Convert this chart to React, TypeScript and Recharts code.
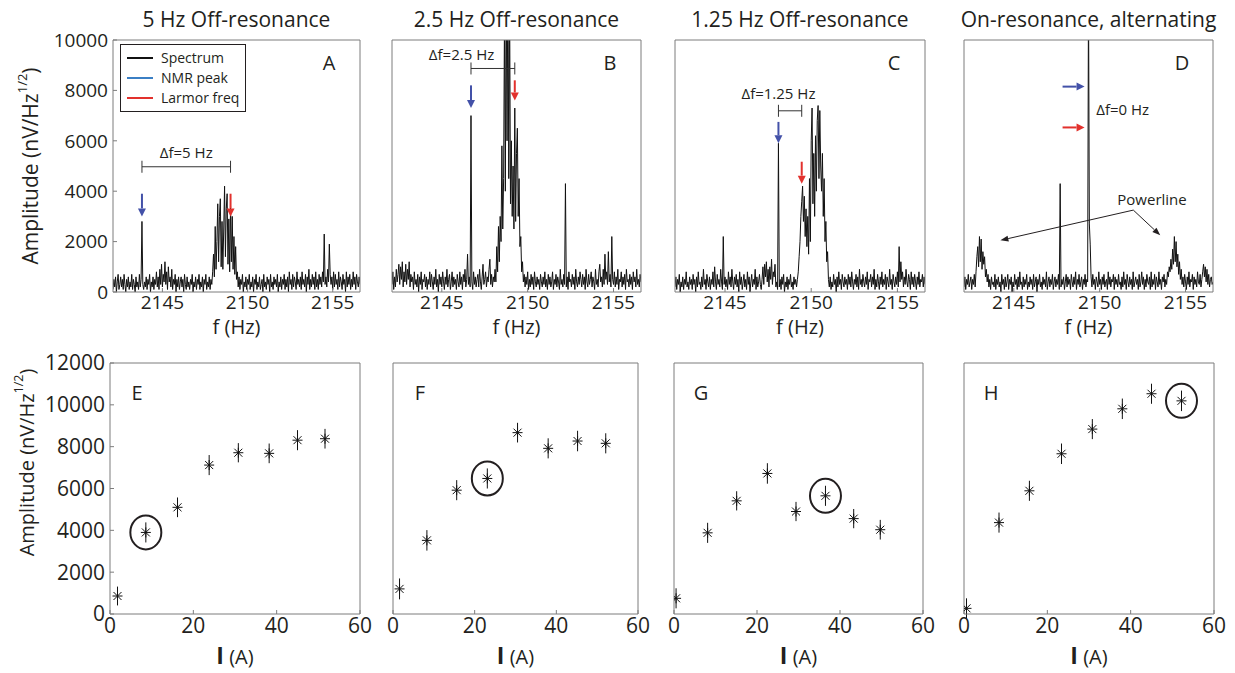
import React from 'react';
import {
  ErrorBar,
  Legend,
  Line,
  LineChart,
  ReferenceDot,
  ReferenceLine,
  Scatter,
  ScatterChart,
  XAxis,
  YAxis,
} from 'recharts';

const FONT = '"Open Sans", "Noto Sans", sans-serif';
const INK = '#231f20';
const FRAME = '#7d7d7d';
const TONES: Record<string, string> = { nmr: '#4351a8', larmor: '#e2312d', ink: '#231f20' };
const LEGEND_BLUE = '#3b7fc4';

// spectrum sampling grid
const F_START = 2142.1;
const F_STEP = 0.05;
const F_DOMAIN = [2142.1, 2156.6];
const F_TICKS = [2145, 2150, 2155];
const AMP_TICKS = [0, 2000, 4000, 6000, 8000, 10000];
const AMP_UNIT = 100; // spectra below are typed in units of 100 nV/Hz^1/2, one value per 0.05 Hz

// A: 5 Hz off-resonance
const SPEC_A = [
  1, 5, 2, 6, 0, 4, 7, 1, 3, 6, 2, 5, 1, 7, 3, 0, 5, 2, 6, 1,
  4, 2, 7, 1, 5, 3, 0, 6, 2, 4, 1, 7, 2, 5, 28, 3, 1, 4, 2, 6,
  1, 5, 3, 7, 0, 4, 2, 6, 1, 5, 3, 8, 2, 6, 1, 9, 3, 11, 2, 7,
  4, 12, 3, 8, 1, 10, 4, 6, 2, 9, 1, 5, 3, 7, 0, 5, 2, 6, 1, 4,
  6, 2, 5, 0, 7, 3, 1, 6, 2, 4, 1, 5, 3, 7, 0, 4, 2, 6, 1, 5,
  3, 7, 1, 4, 2, 6, 0, 5, 3, 7, 1, 4, 2, 6, 1, 5, 3, 8, 15, 6,
  26, 9, 20, 35, 12, 30, 37, 10, 28, 9, 25, 42, 14, 33, 39, 11, 29, 8, 34, 12,
  30, 9, 22, 7, 18, 5, 8, 2, 6, 1, 5, 3, 7, 0, 4, 2, 6, 1, 5, 3,
  7, 1, 4, 2, 6, 0, 5, 3, 7, 1, 4, 2, 6, 1, 3, 5, 0, 7, 2, 4,
  1, 6, 3, 5, 0, 7, 2, 4, 1, 6, 3, 5, 2, 7, 0, 4, 2, 6, 1, 5,
  3, 7, 1, 5, 2, 6, 0, 8, 3, 5, 1, 7, 2, 6, 4, 1, 8, 3, 5, 2,
  6, 1, 8, 3, 5, 2, 7, 0, 6, 3, 9, 1, 5, 2, 7, 3, 6, 1, 8, 2,
  5, 1, 7, 3, 6, 2, 8, 4, 23, 3, 6, 2, 9, 4, 19, 7, 3, 6, 1, 8,
  2, 7, 3, 5, 1, 8, 2, 6, 4, 1, 7, 3, 5, 0, 8, 2, 6, 3, 7, 1,
  5, 2, 8, 3, 6, 1, 7, 4, 2, 6, 3,
];

// B: 2.5 Hz off-resonance
const SPEC_B = [
  3, 8, 1, 6, 2, 9, 4, 7, 11, 3, 10, 5, 12, 2, 8, 4, 11, 3, 9, 5,
  12, 2, 7, 4, 6, 1, 8, 3, 5, 2, 7, 0, 6, 3, 8, 1, 5, 4, 7, 2,
  6, 1, 5, 3, 8, 2, 7, 4, 1, 6, 3, 9, 2, 5, 0, 7, 3, 6, 2, 8,
  4, 1, 6, 3, 9, 2, 5, 7, 1, 4, 8, 2, 6, 3, 5, 1, 7, 4, 2, 8,
  3, 6, 1, 7, 4, 9, 2, 5, 15, 3, 6, 2, 70, 4, 1, 8, 3, 6, 2, 5,
  7, 2, 9, 4, 1, 6, 11, 3, 5, 8, 2, 6, 4, 9, 13, 3, 7, 2, 6, 4,
  9, 4, 18, 8, 26, 12, 30, 20, 58, 25, 45, 110, 40, 125, 60, 130, 45, 115, 35, 60,
  30, 50, 25, 73, 28, 55, 65, 30, 45, 18, 22, 8, 12, 4, 7, 2, 6, 3, 8, 1,
  5, 2, 7, 3, 6, 1, 8, 4, 2, 6, 3, 5, 1, 7, 4, 2, 6, 3, 8, 2,
  5, 1, 7, 3, 6, 2, 4, 8, 1, 5, 3, 7, 2, 6, 4, 1, 9, 3, 5, 2,
  7, 3, 43, 2, 6, 1, 8, 4, 5, 2, 7, 3, 6, 1, 9, 4, 2, 6, 3, 8,
  5, 2, 7, 3, 6, 1, 9, 4, 2, 7, 3, 5, 8, 2, 6, 4, 1, 9, 3, 5,
  2, 8, 11, 4, 6, 2, 9, 3, 15, 5, 8, 3, 16, 4, 7, 2, 22, 5, 3, 8,
  2, 6, 3, 9, 1, 5, 4, 8, 2, 6, 3, 7, 1, 9, 4, 5, 2, 7, 3, 6,
  1, 8, 4, 6, 2, 9, 3, 5, 2, 7, 4,
];

// C: 1.25 Hz off-resonance
const SPEC_C = [
  2, 6, 1, 5, 3, 7, 0, 4, 2, 6, 1, 5, 3, 8, 2, 4, 1, 6, 3, 5,
  1, 7, 3, 5, 0, 6, 2, 8, 3, 4, 1, 6, 2, 9, 3, 5, 1, 7, 4, 2,
  6, 1, 5, 3, 8, 2, 10, 4, 1, 7, 3, 5, 2, 9, 4, 1, 22, 3, 6, 2,
  5, 1, 8, 3, 6, 2, 9, 4, 1, 6, 3, 7, 2, 5, 0, 8, 3, 6, 1, 4,
  7, 2, 5, 1, 8, 3, 6, 0, 4, 7, 2, 5, 3, 9, 1, 6, 2, 4, 7, 3,
  1, 5, 10, 3, 11, 6, 12, 4, 9, 2, 10, 5, 13, 3, 8, 6, 11, 2, 4, 1,
  59, 2, 5, 1, 6, 3, 7, 0, 4, 2, 6, 1, 5, 3, 7, 2, 4, 1, 6, 3,
  5, 2, 5, 8, 14, 20, 30, 36, 42, 28, 38, 22, 33, 18, 30, 15, 45, 20, 60, 73,
  35, 55, 30, 62, 40, 68, 74, 45, 72, 50, 40, 55, 30, 45, 20, 28, 12, 16, 5, 2,
  6, 1, 4, 2, 7, 3, 5, 0, 6, 2, 8, 3, 5, 1, 7, 4, 2, 6, 3, 5,
  1, 7, 3, 6, 2, 8, 4, 1, 5, 3, 7, 2, 6, 1, 9, 3, 5, 2, 7, 4,
  2, 6, 3, 8, 1, 5, 4, 7, 2, 6, 3, 9, 1, 5, 2, 7, 4, 1, 6, 3,
  8, 2, 5, 3, 7, 1, 6, 4, 2, 9, 3, 5, 1, 7, 4, 2, 6, 3, 8, 2,
  18, 4, 12, 5, 8, 2, 6, 3, 9, 4, 2, 7, 5, 1, 8, 3, 6, 2, 7, 4,
  1, 6, 3, 8, 2, 5, 4, 7, 2, 6, 3,
];

// D: on-resonance, alternating
const SPEC_D = [
  2, 6, 1, 5, 3, 7, 2, 4, 6, 1, 5, 3, 7, 2, 8, 14, 18, 10, 22, 12,
  21, 9, 16, 11, 14, 6, 9, 4, 7, 2, 5, 1, 6, 3, 4, 2, 7, 1, 5, 3,
  6, 2, 4, 0, 7, 3, 5, 1, 6, 2, 4, 7, 1, 5, 3, 6, 0, 4, 2, 7,
  3, 5, 1, 6, 2, 8, 3, 4, 1, 6, 2, 5, 3, 7, 1, 4, 2, 6, 3, 5,
  1, 7, 2, 4, 6, 0, 5, 3, 7, 2, 4, 1, 6, 3, 5, 2, 8, 1, 4, 6,
  2, 5, 3, 7, 1, 4, 6, 2, 5, 3, 7, 1, 43, 2, 5, 3, 6, 1, 4, 7,
  2, 6, 3, 5, 1, 7, 4, 2, 6, 3, 8, 1, 5, 3, 7, 2, 4, 6, 1, 5,
  3, 7, 2, 5, 4, 120, 27, 19, 6, 2, 7, 3, 5, 1, 6, 4, 2, 8, 3, 5,
  1, 6, 3, 7, 2, 4, 5, 1, 8, 3, 6, 2, 5, 4, 7, 1, 6, 3, 5, 2,
  7, 3, 4, 1, 6, 2, 8, 3, 5, 1, 7, 4, 2, 6, 3, 5, 1, 8, 2, 4,
  6, 3, 5, 1, 7, 2, 4, 8, 3, 6, 1, 5, 2, 7, 4, 3, 6, 1, 8, 2,
  5, 3, 7, 1, 6, 4, 2, 8, 3, 5, 1, 6, 4, 7, 2, 5, 3, 8, 6, 10,
  8, 13, 9, 17, 11, 22, 12, 20, 10, 15, 7, 12, 5, 9, 3, 6, 2, 7, 4, 1,
  6, 3, 8, 2, 5, 4, 7, 1, 6, 3, 5, 2, 8, 4, 3, 7, 2, 5, 8, 11,
  6, 10, 4, 9, 3, 7, 2, 5, 6, 3, 4,
];

// annotations in data units
const ARROWS_A = [
  { tone: 'nmr', x1: 2143.8, y1: 3900, x2: 2143.8, y2: 3000 },
  { tone: 'larmor', x1: 2149.0, y1: 3900, x2: 2149.0, y2: 3000 },
];
const SPANS_A = [{ x1: 2143.8, x2: 2149.0, y: 4970 }];
const NOTES_A = [{ x: 2146.4, y: 5550, text: 'Δf=5 Hz', anchor: 'middle' }];

const ARROWS_B = [
  { tone: 'nmr', x1: 2146.7, y1: 8200, x2: 2146.7, y2: 7300 },
  { tone: 'larmor', x1: 2149.25, y1: 8400, x2: 2149.25, y2: 7600 },
];
const SPANS_B = [{ x1: 2146.7, x2: 2149.25, y: 8870 }];
const NOTES_B = [{ x: 2146.15, y: 9450, text: 'Δf=2.5 Hz', anchor: 'middle' }];

const ARROWS_C = [
  { tone: 'nmr', x1: 2148.1, y1: 6750, x2: 2148.1, y2: 5900 },
  { tone: 'larmor', x1: 2149.45, y1: 5170, x2: 2149.45, y2: 4300 },
];
const SPANS_C = [{ x1: 2148.1, x2: 2149.45, y: 7190 }];
const NOTES_C = [{ x: 2148.1, y: 7880, text: 'Δf=1.25 Hz', anchor: 'middle' }];

const ARROWS_D = [
  { tone: 'nmr', x1: 2147.84, y1: 8150, x2: 2149.12, y2: 8150 },
  { tone: 'larmor', x1: 2147.84, y1: 6530, x2: 2149.12, y2: 6530 },
  { tone: 'ink', x1: 2151.96, y1: 3250, x2: 2144.22, y2: 2050, thin: true },
  { tone: 'ink', x1: 2151.96, y1: 3250, x2: 2153.53, y2: 2250, thin: true },
];
const SPANS_D: { x1: number; x2: number; y: number }[] = [];
const NOTES_D = [
  { x: 2149.8, y: 7280, text: 'Δf=0 Hz', anchor: 'start' },
  { x: 2153.05, y: 3710, text: 'Powerline', anchor: 'middle' },
];

// current sweep, amplitude with error
const I_TICKS = [0, 20, 40, 60];
const AMP2_TICKS = [0, 2000, 4000, 6000, 8000, 10000, 12000];

const I_E = [1.8, 8.6, 16.2, 23.8, 30.8, 38.2, 45.0, 51.6];
const AMP_E = [860, 3900, 5100, 7120, 7710, 7680, 8310, 8380];
const ERR_E = [450, 480, 470, 480, 460, 470, 480, 470];

const I_F = [1.6, 8.3, 15.6, 23.1, 30.5, 38.0, 45.2, 52.1];
const AMP_F = [1200, 3520, 5920, 6480, 8670, 7920, 8270, 8160];
const ERR_F = [500, 490, 480, 480, 470, 480, 490, 480];

const I_G = [0.5, 8.1, 15.1, 22.5, 29.4, 36.5, 43.3, 49.7];
const AMP_G = [750, 3880, 5410, 6720, 4900, 5650, 4560, 4030];
const ERR_G = [480, 480, 460, 490, 460, 480, 460, 470];

const I_H = [0.6, 8.4, 15.7, 23.4, 30.8, 38.0, 45.0, 52.2];
const AMP_H = [270, 4370, 5890, 7660, 8840, 9810, 10530, 10190];
const ERR_H = [480, 480, 480, 490, 480, 490, 480, 490];

const LEGEND_ITEMS = [
  { name: 'Spectrum', color: '#111' },
  { name: 'NMR peak', color: LEGEND_BLUE },
  { name: 'Larmor freq', color: TONES.larmor },
];

const toSpectrum = (vals: number[]) =>
  vals.map((v, i) => ({ f: Math.round((F_START + i * F_STEP) * 1000) / 1000, amp: v * AMP_UNIT }));

const toSweep = (cur: number[], amp: number[], err: number[]) =>
  cur.map((c, i) => ({ cur: c, amp: amp[i], err: err[i] }));

const TOP_Y = 40;
const TOP_H = 252;
const BOT_Y = 363;
const BOT_H = 251;

const SPECTRA = [
  { letter: 'A', title: '5 Hz Off-resonance', left: 113, width: 247, vals: SPEC_A, arrows: ARROWS_A, spans: SPANS_A, notes: NOTES_A, axis: true },
  { letter: 'B', title: '2.5 Hz Off-resonance', left: 392, width: 249, vals: SPEC_B, arrows: ARROWS_B, spans: SPANS_B, notes: NOTES_B, axis: false },
  { letter: 'C', title: '1.25 Hz Off-resonance', left: 675, width: 250, vals: SPEC_C, arrows: ARROWS_C, spans: SPANS_C, notes: NOTES_C, axis: false },
  { letter: 'D', title: 'On-resonance, alternating', left: 964, width: 249, vals: SPEC_D, arrows: ARROWS_D, spans: SPANS_D, notes: NOTES_D, axis: false },
];

const SWEEPS = [
  { letter: 'E', left: 110, width: 250, rows: toSweep(I_E, AMP_E, ERR_E), ring: 1, axis: true },
  { letter: 'F', left: 393, width: 245, rows: toSweep(I_F, AMP_F, ERR_F), ring: 3, axis: false },
  { letter: 'G', left: 674, width: 249, rows: toSweep(I_G, AMP_G, ERR_G), ring: 5, axis: false },
  { letter: 'H', left: 964, width: 250, rows: toSweep(I_H, AMP_H, ERR_H), ring: 7, axis: false },
];

const arrowShape = (tone: string, thin?: boolean) => (props: any) => {
  const { x1, y1, x2, y2 } = props;
  const color = TONES[tone];
  const len = 8;
  const half = thin ? 3 : 4;
  const a = Math.atan2(y2 - y1, x2 - x1);
  const bx = x2 - len * Math.cos(a);
  const by = y2 - len * Math.sin(a);
  const pts = [
    `${x2},${y2}`,
    `${bx - half * Math.sin(a)},${by + half * Math.cos(a)}`,
    `${bx + half * Math.sin(a)},${by - half * Math.cos(a)}`,
  ].join(' ');
  return (
    <g>
      <line x1={x1} y1={y1} x2={bx} y2={by} stroke={color} strokeWidth={thin ? 1 : 2} />
      <polygon points={pts} fill={color} />
    </g>
  );
};

const spanShape = (props: any) => {
  const { x1, y1, x2, y2 } = props;
  return (
    <g stroke="#333" strokeWidth={1}>
      <line x1={x1} y1={y1} x2={x2} y2={y2} />
      <line x1={x1} y1={y1 - 6} x2={x1} y2={y1 + 6} />
      <line x1={x2} y1={y2 - 6} x2={x2} y2={y2 + 6} />
    </g>
  );
};

const noteShape = (text: string, anchor: string) => (props: any) => (
  <text
    x={props.cx}
    y={props.cy}
    textAnchor={anchor}
    dominantBaseline="central"
    fontSize={15}
    fontFamily={FONT}
    fill={INK}
  >
    {text}
  </text>
);

const ringShape = (props: any) => (
  <ellipse cx={props.cx} cy={props.cy} rx={15.5} ry={17} fill="none" stroke={INK} strokeWidth={2} />
);

const Asterisk = (props: any) => {
  const { cx, cy } = props;
  return (
    <g stroke="#111" strokeWidth={1}>
      <line x1={cx - 5} y1={cy} x2={cx + 5} y2={cy} />
      <line x1={cx - 4} y1={cy - 4} x2={cx + 4} y2={cy + 4} />
      <line x1={cx - 4} y1={cy + 4} x2={cx + 4} y2={cy - 4} />
      <line x1={cx} y1={cy - 5} x2={cx} y2={cy + 5} />
    </g>
  );
};

const ampLabel = (size: number, offset: number, shift: number) => (props: any) => {
  const { x, y, width, height } = props.viewBox;
  const cx = x + width - offset;
  const cy = y + height / 2 + shift;
  return (
    <text
      x={cx}
      y={cy}
      transform={`rotate(-90 ${cx} ${cy})`}
      textAnchor="middle"
      dominantBaseline="central"
      fontSize={size}
      fontFamily={FONT}
      fill={INK}
    >
      Amplitude (nV/Hz
      <tspan dy={-size * 0.4} fontSize={size * 0.62}>1/2</tspan>
      <tspan dy={size * 0.4}>)</tspan>
    </text>
  );
};

const headLabel = (title: string | null, letter: string, top: boolean) => (props: any) => {
  const { x, y, width, height } = props.viewBox;
  const plotTop = y + height;
  return (
    <g fontFamily={FONT} fill={INK}>
      {title && (
        <text x={x + width / 2} y={plotTop - 13} textAnchor="middle" fontSize={21}>
          {title}
        </text>
      )}
      <text
        x={top ? x + width - 31 : x + 27}
        y={top ? plotTop + 30 : plotTop + 37}
        textAnchor="middle"
        fontSize={20}
      >
        {letter}
      </text>
    </g>
  );
};

const fLabel = (props: any) => {
  const { x, y, width } = props.viewBox;
  return (
    <text x={x + width / 2} y={y + 42} textAnchor="middle" fontSize={20} fontFamily={FONT} fill={INK}>
      f (Hz)
    </text>
  );
};

const iLabel = (props: any) => {
  const { x, y, width } = props.viewBox;
  return (
    <text x={x + width / 2} y={y + 50} textAnchor="middle" fontFamily={FONT} fill={INK}>
      <tspan fontSize={23} fontWeight={700}>I</tspan>
      <tspan fontSize={20}> (A)</tspan>
    </text>
  );
};

const legendBox = () => (
  <div
    style={{
      border: `1px solid ${INK}`,
      background: '#fff',
      padding: '3px 6px',
      fontFamily: FONT,
      fontSize: 14,
      color: INK,
      lineHeight: '20px',
      whiteSpace: 'nowrap',
    }}
  >
    {LEGEND_ITEMS.map((it) => (
      <div key={it.name} style={{ display: 'flex', alignItems: 'center' }}>
        <svg width={26} height={4} style={{ marginRight: 8 }}>
          <line x1={0} y1={2} x2={26} y2={2} stroke={it.color} strokeWidth={2} />
        </svg>
        {it.name}
      </div>
    ))}
  </div>
);

function SpectrumPanel({ p }: { p: (typeof SPECTRA)[number] }) {
  const yW = p.axis ? p.left : 40;
  const chartLeft = p.left - yW;
  const chartTop = TOP_Y - 40;
  const rows = toSpectrum(p.vals);
  const tickFont = { fontSize: 19, fill: INK, fontFamily: FONT };
  return (
    <div style={{ position: 'absolute', left: chartLeft, top: chartTop }}>
      <LineChart
        width={yW + p.width + 12}
        height={40 + TOP_H + 52}
        data={rows}
        margin={{ top: 39, right: 11, bottom: 0, left: 0 }}
      >
        <XAxis
          dataKey="f"
          type="number"
          domain={F_DOMAIN}
          ticks={F_TICKS}
          allowDataOverflow
          height={52}
          stroke={FRAME}
          tickSize={-4}
          tickMargin={8}
          tick={tickFont}
          label={fLabel}
        />
        <XAxis
          xAxisId="top"
          orientation="top"
          type="number"
          domain={F_DOMAIN}
          ticks={F_TICKS}
          allowDataOverflow
          height={1}
          stroke={FRAME}
          tickSize={-4}
          tick={false}
          label={headLabel(p.title, p.letter, true)}
        />
        <YAxis
          type="number"
          domain={[0, 10000]}
          ticks={AMP_TICKS}
          allowDataOverflow
          width={yW}
          stroke={FRAME}
          tickSize={-4}
          tickMargin={9}
          tick={p.axis ? tickFont : false}
          label={p.axis ? ampLabel(21, 83, 0) : undefined}
        />
        <YAxis
          yAxisId="right"
          orientation="right"
          type="number"
          domain={[0, 10000]}
          ticks={AMP_TICKS}
          allowDataOverflow
          width={1}
          stroke={FRAME}
          tickSize={-4}
          tick={false}
        />
        <Line dataKey="amp" stroke="#111" strokeWidth={1} dot={false} isAnimationActive={false} />
        {p.spans.map((s, i) => (
          <ReferenceLine
            key={`s${i}`}
            segment={[{ x: s.x1, y: s.y }, { x: s.x2, y: s.y }]}
            shape={spanShape}
            ifOverflow="visible"
          />
        ))}
        {p.arrows.map((a: any, i: number) => (
          <ReferenceLine
            key={`a${i}`}
            segment={[{ x: a.x1, y: a.y1 }, { x: a.x2, y: a.y2 }]}
            shape={arrowShape(a.tone, a.thin)}
            ifOverflow="visible"
          />
        ))}
        {p.notes.map((n, i) => (
          <ReferenceDot key={`n${i}`} x={n.x} y={n.y} r={1} shape={noteShape(n.text, n.anchor)} ifOverflow="visible" />
        ))}
        {p.letter === 'A' && (
          <Legend
            layout="vertical"
            align="center"
            verticalAlign="middle"
            content={legendBox}
            wrapperStyle={{ left: 120 - chartLeft, top: 44 - chartTop, width: 'auto', height: 'auto' }}
          />
        )}
      </LineChart>
    </div>
  );
}

function SweepPanel({ p }: { p: (typeof SWEEPS)[number] }) {
  const yW = p.axis ? p.left : 40;
  const chartLeft = p.left - yW;
  const chartTop = BOT_Y - 20;
  const tickFont = { fontSize: 21, fill: INK, fontFamily: FONT };
  const ringed = p.rows[p.ring];
  return (
    <div style={{ position: 'absolute', left: chartLeft, top: chartTop }}>
      <ScatterChart
        width={yW + p.width + 12}
        height={20 + BOT_H + 58}
        margin={{ top: 19, right: 11, bottom: 0, left: 0 }}
      >
        <XAxis
          dataKey="cur"
          type="number"
          domain={[0, 60]}
          ticks={I_TICKS}
          allowDataOverflow
          height={58}
          stroke={FRAME}
          tickSize={-4}
          tickMargin={8}
          tick={tickFont}
          label={iLabel}
        />
        <XAxis
          xAxisId="top"
          orientation="top"
          type="number"
          domain={[0, 60]}
          ticks={I_TICKS}
          allowDataOverflow
          height={1}
          stroke={FRAME}
          tickSize={-4}
          tick={false}
          label={headLabel(null, p.letter, false)}
        />
        <YAxis
          dataKey="amp"
          type="number"
          domain={[0, 12000]}
          ticks={AMP2_TICKS}
          allowDataOverflow
          width={yW}
          stroke={FRAME}
          tickSize={-4}
          tickMargin={9}
          tick={p.axis ? tickFont : false}
          label={p.axis ? ampLabel(20, 84, -26) : undefined}
        />
        <YAxis
          yAxisId="right"
          orientation="right"
          type="number"
          domain={[0, 12000]}
          ticks={AMP2_TICKS}
          allowDataOverflow
          width={1}
          stroke={FRAME}
          tickSize={-4}
          tick={false}
        />
        <Scatter data={p.rows} shape={Asterisk} isAnimationActive={false}>
          <ErrorBar dataKey="err" direction="y" width={0} stroke="#111" strokeWidth={1} isAnimationActive={false} />
        </Scatter>
        <ReferenceDot x={ringed.cur} y={ringed.amp} r={16} shape={ringShape} ifOverflow="visible" />
      </ScatterChart>
    </div>
  );
}

export default function App() {
  return (
    <div
      style={{
        position: 'absolute',
        left: 0,
        top: 0,
        width: 1235,
        height: 673,
        background: '#fff',
        overflow: 'hidden',
      }}
    >
      {SPECTRA.map((p) => (
        <SpectrumPanel key={p.letter} p={p} />
      ))}
      {SWEEPS.map((p) => (
        <SweepPanel key={p.letter} p={p} />
      ))}
    </div>
  );
}
